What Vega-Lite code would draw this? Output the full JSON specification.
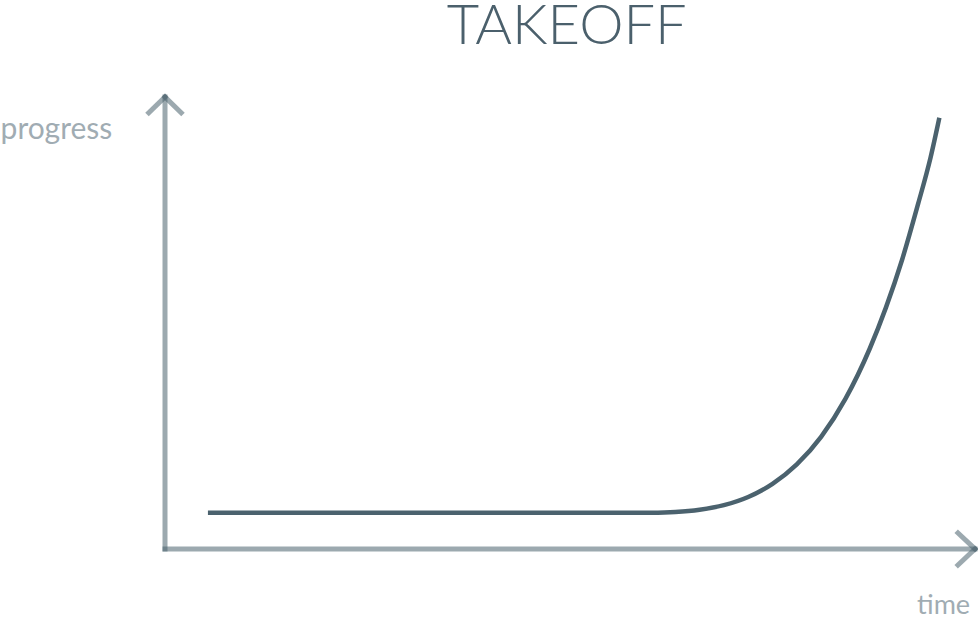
{
  "$schema": "https://vega.github.io/schema/vega-lite/v6.json",
  "width": 978,
  "height": 619,
  "autosize": "none",
  "padding": 0,
  "background": "white",
  "config": {"view": {"stroke": null}},
  "datasets": {
    "curve": [
      {"t": 0.53, "p": 8.0},
      {"t": 2.0, "p": 8.0},
      {"t": 4.0, "p": 8.0},
      {"t": 5.5, "p": 8.0},
      {"t": 6.0, "p": 8.04},
      {"t": 6.3, "p": 8.2},
      {"t": 6.6, "p": 8.7},
      {"t": 6.9, "p": 9.7},
      {"t": 7.2, "p": 11.5},
      {"t": 7.5, "p": 14.4},
      {"t": 7.8, "p": 18.7},
      {"t": 8.1, "p": 24.8},
      {"t": 8.4, "p": 33.2},
      {"t": 8.7, "p": 44.3},
      {"t": 8.9, "p": 53.4},
      {"t": 9.1, "p": 64.0},
      {"t": 9.3, "p": 76.5},
      {"t": 9.45, "p": 86.5},
      {"t": 9.56, "p": 95.4}
    ],
    "axes": [
      {"seg": "xaxis", "ord": 0, "t": 0, "p": 0},
      {"seg": "xaxis", "ord": 1, "t": 10, "p": 0},
      {"seg": "xa1", "ord": 0, "t": 9.79, "p": 3.54},
      {"seg": "xa1", "ord": 1, "t": 10, "p": 0},
      {"seg": "xa2", "ord": 0, "t": 9.79, "p": -3.54},
      {"seg": "xa2", "ord": 1, "t": 10, "p": 0},
      {"seg": "yaxis", "ord": 0, "t": 0, "p": 0},
      {"seg": "yaxis", "ord": 1, "t": 0, "p": 100},
      {"seg": "ya1", "ord": 0, "t": -0.2, "p": 96.5},
      {"seg": "ya1", "ord": 1, "t": 0, "p": 100},
      {"seg": "ya2", "ord": 0, "t": 0.2, "p": 96.5},
      {"seg": "ya2", "ord": 1, "t": 0, "p": 100}
    ],
    "ylabel": [
      {"label": "progress", "t": -2.03, "p": 90.7}
    ],
    "xlabel": [
      {"label": "time", "t": 9.94, "p": -14.4}
    ],
    "title": [
      {"label": "TAKEOFF", "t": 4.96, "p": 111.7}
    ]
  },
  "layer": [
    {
      "data": {"name": "axes"},
      "mark": {"type": "line", "color": "#4b626e", "opacity": 0.55, "strokeWidth": 5, "strokeCap": "square"},
      "encoding": {
        "x": {"field": "t", "type": "quantitative", "scale": {"domain": [-2.037, 10.037], "nice": false, "zero": false}, "axis": null},
        "y": {"field": "p", "type": "quantitative", "scale": {"domain": [-15.49, 121.46], "nice": false, "zero": false}, "axis": null},
        "detail": {"field": "seg", "type": "nominal"},
        "order": {"field": "ord", "type": "quantitative"}
      }
    },
    {
      "data": {"name": "curve"},
      "mark": {"type": "line", "color": "#4b626e", "strokeWidth": 4.5, "interpolate": "monotone", "strokeCap": "butt"},
      "encoding": {
        "x": {"field": "t", "type": "quantitative"},
        "y": {"field": "p", "type": "quantitative"}
      }
    },
    {
      "data": {"name": "ylabel"},
      "mark": {"type": "text", "font": "Lato", "fontSize": 30, "color": "#4b626e", "opacity": 0.52, "align": "left", "baseline": "alphabetic"},
      "encoding": {
        "x": {"field": "t", "type": "quantitative"},
        "y": {"field": "p", "type": "quantitative"},
        "text": {"field": "label", "type": "nominal"}
      }
    },
    {
      "data": {"name": "xlabel"},
      "mark": {"type": "text", "font": "Lato", "fontSize": 27, "color": "#4b626e", "opacity": 0.52, "align": "right", "baseline": "alphabetic"},
      "encoding": {
        "x": {"field": "t", "type": "quantitative"},
        "y": {"field": "p", "type": "quantitative"},
        "text": {"field": "label", "type": "nominal"}
      }
    },
    {
      "data": {"name": "title"},
      "mark": {"type": "text", "font": "Lato", "fontSize": 56, "fontWeight": 300, "color": "#4b606c", "align": "center", "baseline": "alphabetic"},
      "encoding": {
        "x": {"field": "t", "type": "quantitative"},
        "y": {"field": "p", "type": "quantitative"},
        "text": {"field": "label", "type": "nominal"}
      }
    }
  ]
}
